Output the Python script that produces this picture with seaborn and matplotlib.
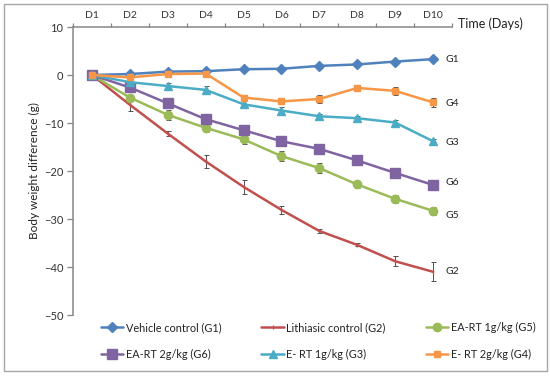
import numpy as np
import pandas as pd
import matplotlib
matplotlib.use('Agg')
import matplotlib.pyplot as plt
from matplotlib.patches import Rectangle
import seaborn as sns

days = ['D1', 'D2', 'D3', 'D4', 'D5', 'D6', 'D7', 'D8', 'D9', 'D10']

g1 = [0, 0.2, 0.7, 0.8, 1.2, 1.3, 1.9, 2.2, 2.8, 3.3]
g2 = [0, -6.2, -12.2, -18.0, -23.3, -28.1, -32.5, -35.4, -38.8, -41.0]
g5 = [0, -4.7, -8.3, -11.0, -13.4, -16.9, -19.4, -22.8, -25.8, -28.3]
g6 = [0, -2.6, -5.9, -9.2, -11.5, -13.8, -15.4, -17.8, -20.4, -22.9]
g3 = [0, -1.5, -2.3, -3.1, -6.1, -7.4, -8.6, -9.0, -9.9, -13.8]
g4 = [0, -0.5, 0.2, 0.3, -4.7, -5.5, -5.0, -2.7, -3.3, -5.7]

e1 = [0, 0.3, 0.3, 0.3, 0.4, 0.3, 0.3, 0.3, 0.3, 0.3]
e2 = [0, 1.2, 0.6, 1.3, 1.4, 0.9, 0.4, 0.3, 1.0, 2.0]
e5 = [0, 0.6, 1.0, 0.8, 1.0, 1.1, 1.0, 0.7, 0.8, 0.9]
e6 = [0, 0.5, 0.6, 0.6, 0.5, 0.5, 0.6, 0.5, 0.6, 0.6]
e3 = [0, 0.4, 0.6, 0.8, 0.6, 0.8, 0.5, 0.5, 0.5, 0.5]
e4 = [0, 0.4, 0.6, 0.8, 0.5, 0.5, 0.8, 0.6, 0.8, 0.9]

labels = ['Vehicle control (G1)', 'Lithiasic control (G2)', 'EA-RT 1g/kg (G5)',
          'EA-RT 2g/kg (G6)', 'E- RT 1g/kg (G3)', 'E- RT 2g/kg (G4)']
tags = ['G1', 'G2', 'G5', 'G6', 'G3', 'G4']
tag_y = [3.3, -41.0, -29.3, -22.4, -14.1, -6.0]

series = [g1, g2, g5, g6, g3, g4]
errors = [e1, e2, e5, e6, e3, e4]
colors = ['#4F81BD', '#C0504D', '#9BBB59', '#8064A2', '#4BACC6', '#F79646']
markers = ['D', '|', 'o', 's', '^', 's']
msizes = [5, 3, 6, 7.5, 6, 5]

sns.set_style('white')
plt.rcParams['font.family'] = ['Lato', 'DejaVu Sans']

fig = plt.figure(figsize=(5.5, 3.76), dpi=100)
ax = fig.add_axes([73 / 550, 1 - 315 / 376, (452 - 73) / 550, (315 - 27) / 376])

x = np.arange(len(days))
for vals, err, c, m, ms, lab in zip(series, errors, colors, markers, msizes, labels):
    ax.errorbar(x, vals, yerr=err, fmt='none', ecolor='#505050', elinewidth=0.7,
                capsize=1.8, capthick=0.7, zorder=2)
    sns.lineplot(x=x, y=vals, ax=ax, color=c, marker=m, markersize=ms,
                 markeredgecolor=c, markeredgewidth=1, linewidth=1.8, label=lab, zorder=3)

for t, ty in zip(tags, tag_y):
    ax.text(9.33, ty, t, fontsize=7.5, color='#222222', va='center', ha='left')

ax.set_xlim(-0.5, 9.5)
ax.set_ylim(-50, 10)
ax.set_yticks(np.arange(-50, 11, 10))
ax.xaxis.tick_top()
ax.set_xticks(x)
ax.set_xticklabels(days)
ax.set_xticks(np.arange(-0.5, 10, 1), minor=True)
ax.tick_params(axis='x', which='major', length=0, pad=5, labelsize=7.5, colors='#333333')
ax.tick_params(axis='x', which='minor', length=3, width=0.9, color='#868686', direction='out')
ax.tick_params(axis='y', length=4, width=0.9, color='#868686', labelsize=8, labelcolor='#333333', pad=3)
ax.yaxis.set_ticks_position('left')

for s in ['right', 'bottom']:
    ax.spines[s].set_visible(False)
for s in ['left', 'top']:
    ax.spines[s].set_color('#868686')
    ax.spines[s].set_linewidth(1.1)

ax.set_ylabel('Body weight difference (g)', fontsize=8.5, color='#222222', labelpad=3)
ax.set_xlabel('')
fig.text(490 / 550, 1 - 24 / 376, 'Time (Days)', fontsize=9, color='#222222', ha='center', va='center')

h, l = ax.get_legend_handles_labels()
ax.get_legend().remove()
order = [0, 3, 1, 4, 2, 5]
fig.legend([h[i] for i in order], [l[i] for i in order], ncol=3, frameon=False,
           loc='center', bbox_to_anchor=(318 / 550, 1 - 341 / 376), fontsize=7.8,
           handlelength=2.1, handletextpad=0.2, columnspacing=3.7, labelspacing=1.5,
           labelcolor='#222222')

fig.patches.append(Rectangle((4 / 550, 5 / 376), 543 / 550, 367 / 376, transform=fig.transFigure,
                             fill=False, edgecolor='#a6a6a6', linewidth=1))

fig.savefig('out.png', dpi=100)
